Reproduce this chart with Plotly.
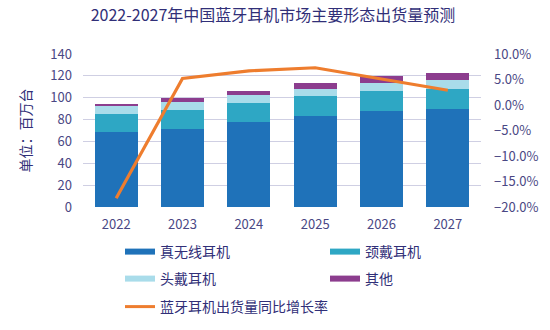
import plotly.graph_objects as go

years = ["2022", "2023", "2024", "2025", "2026", "2027"]
tws = [68.6, 71.7, 77.8, 83.3, 87.8, 90.0]
neck = [16.8, 17.4, 17.4, 18.3, 18.3, 18.3]
head = [6.7, 7.0, 7.0, 6.7, 7.3, 7.6]
other = [2.5, 3.4, 3.9, 5.1, 6.2, 6.7]
growth = [-18.3, 5.2, 6.7, 7.3, 5.1, 2.9]

names = ["真无线耳机", "颈戴耳机", "头戴耳机", "其他"]
colors = ["#1f72b9", "#2ea7c4", "#a9dcea", "#8c3d8e"]
line_name = "蓝牙耳机出货量同比增长率"
line_color = "#ee7d2e"
text_color = "#312f78"
tick_color = "#4a4784"
font_family = "Noto Sans CJK SC, Noto Sans, sans-serif"

fig = go.Figure()
for vals, nm, c in zip([tws, neck, head, other], names, colors):
    fig.add_trace(go.Bar(x=years, y=vals, name=nm, marker_color=c,
                         marker_line_width=0, showlegend=False))

fig.add_trace(go.Scatter(x=years, y=growth, name=line_name, mode="lines",
                         line=dict(color=line_color, width=3.2), yaxis="y2",
                         showlegend=False))

# legend slots: (legend id, x px, y px)
slots = [("legend", 120, 252), ("legend2", 325, 252),
         ("legend3", 120, 279), ("legend4", 325, 279),
         ("legend5", 120, 307)]
leg_names = names + [line_name]
leg_colors = colors + [line_color]
leg_widths = [6, 6, 6, 6, 3]

leg_common = dict(orientation="h", xanchor="left", yanchor="middle",
                  font=dict(size=14, color=text_color, family=font_family),
                  bgcolor="rgba(0,0,0,0)", xref="container", yref="container")

legend_layout = {}
for (lid, px, py), nm, c, w in zip(slots, leg_names, leg_colors, leg_widths):
    fig.add_trace(go.Scatter(x=[None], y=[None], name=nm, mode="lines",
                             line=dict(color=c, width=w), legend=lid,
                             showlegend=True))
    legend_layout[lid] = dict(x=px / 550, y=1 - py / 330, **leg_common)

fig.update_layout(
    width=550, height=330,
    margin=dict(l=83, r=69, t=54, b=123, autoexpand=False),
    paper_bgcolor="white", plot_bgcolor="white",
    barmode="stack", bargap=0.35,
    font=dict(family=font_family, color=tick_color, size=13),
    title=dict(text="2022-2027年中国蓝牙耳机市场主要形态出货量预测",
               x=273/550, xanchor="center", y=1 - 15/330, yanchor="middle",
               xref="container", yref="container",
               font=dict(size=16, color=text_color, family=font_family)),
    xaxis=dict(showgrid=False, zeroline=False, showline=False,
               tickfont=dict(size=13, color=tick_color), ticklabelstandoff=8),
    yaxis=dict(range=[0, 140], dtick=20, showgrid=True, gridcolor="#cfcfe3",
               gridwidth=1, zeroline=False, showline=False,
               tickfont=dict(size=13, color=tick_color), ticklabelstandoff=10,
               title=dict(text="单位：百万台", font=dict(size=14, color=text_color),
                          standoff=15)),
    yaxis2=dict(range=[-20, 10], dtick=5, overlaying="y", side="right",
                showgrid=False, zeroline=False, showline=False,
                ticksuffix="%", tickformat=".1f",
                tickfont=dict(size=13, color=tick_color), ticklabelstandoff=12),
    **legend_layout,
)

fig.write_html("out.html")
